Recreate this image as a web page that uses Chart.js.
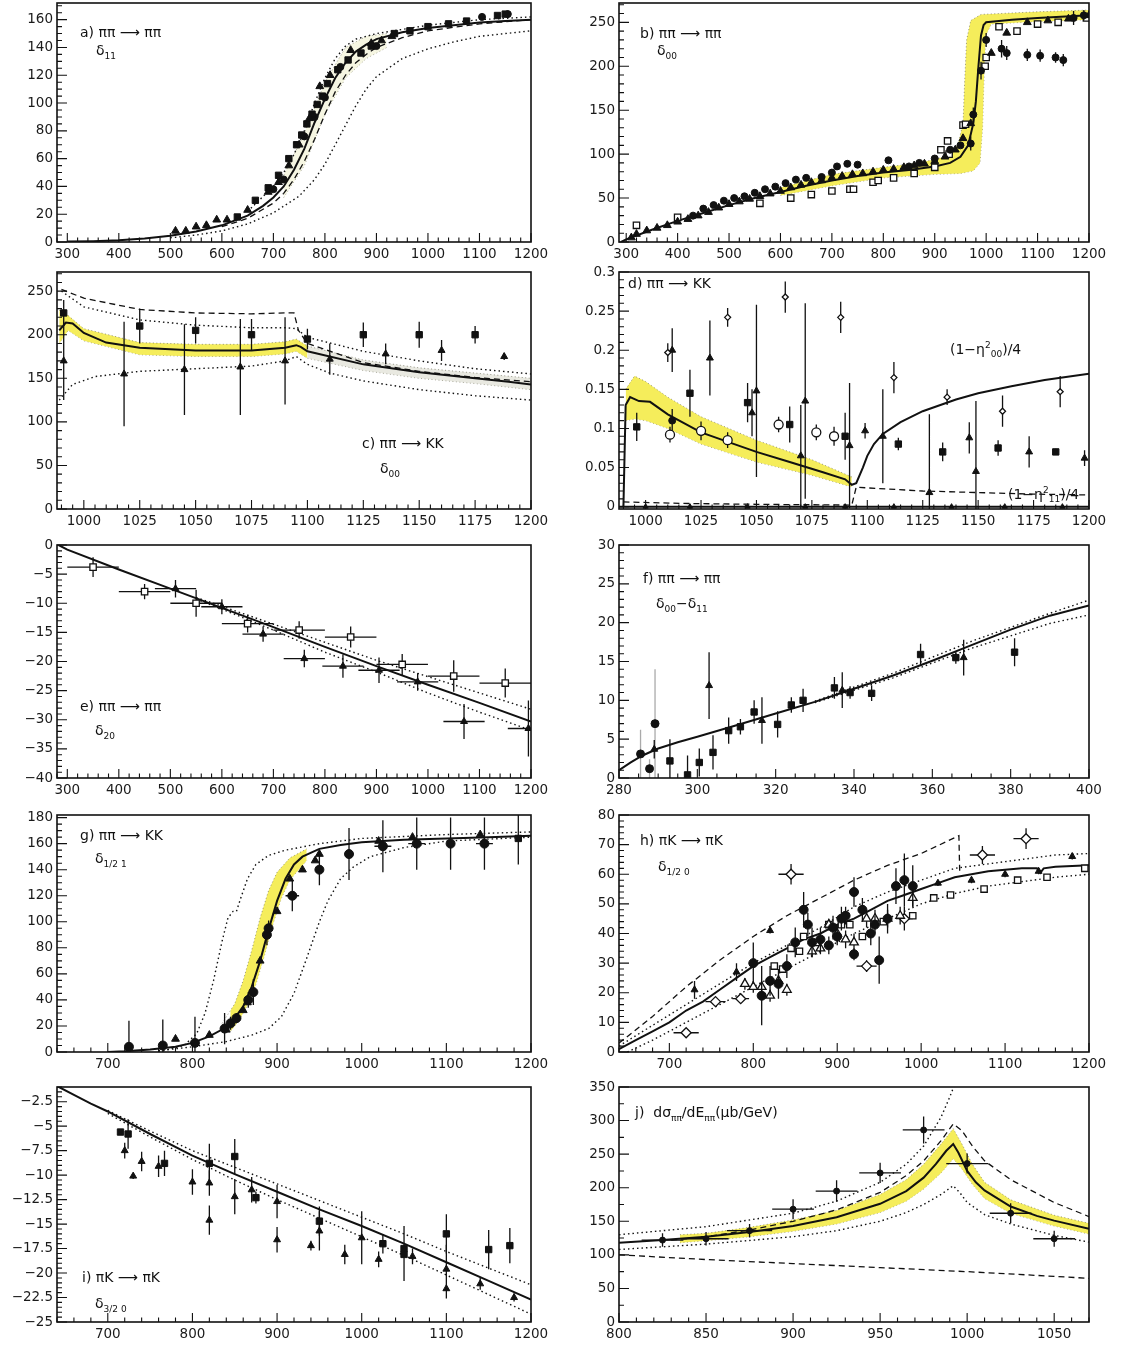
<!DOCTYPE html>
<html lang="en">
<head>
    <meta charset="UTF-8">
    <title>Phase shifts - fit panels</title>
    <script src="https://cdn.jsdelivr.net/npm/chart.js"></script>
    <style>
        body { margin: 0; width: 1125px; height: 1346px; background: #fff; position: relative; overflow: hidden; }
        canvas { position: absolute; }
        .lab { position: absolute; font: 14px "DejaVu Sans", sans-serif; color: #111; white-space: nowrap; line-height: 18px; }
        .lab sub { font-size: 9px; }
        .lab sup { font-size: 9px; }
    </style>
</head>
<body>
    <div class="lab" style="left:80px;top:23px">a) ππ ⟶ ππ</div>
    <div class="lab" style="left:96px;top:41px">δ<sub>11</sub></div>
    <div class="lab" style="left:640px;top:24px">b) ππ ⟶ ππ</div>
    <div class="lab" style="left:657px;top:41px">δ<sub>00</sub></div>
    <div class="lab" style="left:362px;top:434px">c) ππ ⟶ KK</div>
    <div class="lab" style="left:380px;top:459px">δ<sub>00</sub></div>
    <div class="lab" style="left:628px;top:274px">d) ππ ⟶ KK</div>
    <div class="lab" style="left:950px;top:336px">(1−η<sup>2</sup><sub>00</sub>)/4</div>
    <div class="lab" style="left:1008px;top:481px">(1−η<sup>2</sup><sub>11</sub>)/4</div>
    <div class="lab" style="left:80px;top:697px">e) ππ ⟶ ππ</div>
    <div class="lab" style="left:95px;top:721px">δ<sub>20</sub></div>
    <div class="lab" style="left:643px;top:569px">f) ππ ⟶ ππ</div>
    <div class="lab" style="left:656px;top:594px">δ<sub>00</sub>−δ<sub>11</sub></div>
    <div class="lab" style="left:80px;top:826px">g) ππ ⟶ KK</div>
    <div class="lab" style="left:95px;top:849px">δ<sub>1/2 1</sub></div>
    <div class="lab" style="left:640px;top:831px">h) πK ⟶ πK</div>
    <div class="lab" style="left:658px;top:857px">δ<sub>1/2 0</sub></div>
    <div class="lab" style="left:82px;top:1268px">i) πK ⟶ πK</div>
    <div class="lab" style="left:95px;top:1294px">δ<sub>3/2 0</sub></div>
    <div class="lab" style="left:635px;top:1103px">j)&nbsp; dσ<sub>ππ</sub>/dE<sub>ππ</sub>(μb/GeV)</div>

    <script>
        // ---- panel a: pi pi -> pi pi, delta11 ----
        const aTicksX = [300, 400, 500, 600, 700, 800, 900, 1000, 1100, 1200];
        const aTicksY = [0, 20, 40, 60, 80, 100, 120, 140, 160];
        const aSolid = [[300,0.3],[350,0.6],[400,1.2],[450,2.5],[500,4.5],[550,7.5],[600,12],[650,19],[680,26],[700,32],[720,40],[740,52],[760,67],[780,86],[800,103],[820,118],[840,129],[860,137],[880,142],[900,146],[950,151],[1000,154],[1050,156],[1100,158],[1150,159],[1200,160]];
        const aDashed = [[600,11],[650,17],[700,28],[720,35],[740,45],[760,58],[780,74],[800,92],[820,108],[840,120],[860,129],[880,135],[900,140],[950,147],[1000,152],[1100,157],[1200,160]];
        const aDotRight = [[500,3],[550,5],[600,8],[650,13],[700,21],[750,33],[780,45],[800,56],[820,70],[840,84],[860,98],[880,110],[900,119],[950,132],[1000,139],[1050,144],[1100,148],[1150,150],[1200,152]];
        const aDotLeft = [[650,22],[700,40],[720,50],[740,63],[760,80],[780,100],[800,118],[820,132],[840,141],[860,146],[900,150],[950,153],[1000,156],[1100,160],[1200,162]];
        const aBandHi = [[720,48],[760,78],[800,115],[840,140],[880,148],[920,150]];
        const aBandLo = [[720,32],[760,55],[800,92],[840,118],[880,132],[920,140]];
        const aTri = [[510,8],[530,8],[550,11],[570,12],[590,16],[610,16],[650,23],[690,36],[710,43],[730,55],[750,70],[770,89],[790,112],[810,120],[850,138],[890,143],[910,145],[930,148]];
        const aSq = [[630,18],[665,30],[690,39],[710,48],[730,60],[745,70],[755,77],[765,85],[775,92],[785,99],[795,105],[805,114],[825,124],[845,131],[870,136],[890,141],[935,150],[965,152],[1000,155],[1040,157],[1075,159],[1135,163],[1150,164]];
        const aCirc = [[700,38],[720,45],[760,76],[780,90],[800,104],[830,126],[900,141],[1105,162],[1155,164]];

        // ---- panel b: pi pi -> pi pi, delta00 ----
        const bTicksX = [300, 400, 500, 600, 700, 800, 900, 1000, 1100, 1200];
        const bTicksY = [0, 50, 100, 150, 200, 250];
        const bSolid = [[290,0],[300,3],[350,14],[400,24],[450,33],[500,42],[550,50],[600,57],[650,64],[700,70],[750,75],[800,79],[850,82],[900,86],[930,90],[950,97],[965,110],[975,135],[980,160],[985,200],[990,235],[995,247],[1000,250],[1050,253],[1100,255],[1200,258]];
        const bBandHi = [[600,62],[700,77],[800,85],[870,90],[920,97],[945,110],[955,135],[958,180],[962,230],[970,252],[990,259],[1100,262],[1200,264]];
        const bBandLo = [[600,53],[700,64],[800,73],[900,77],[950,78],[975,81],[988,90],[993,130],[996,190],[999,235],[1010,248],[1100,251],[1200,253]];
        const bCirc = [[430,30],[450,38],[470,42],[490,47],[510,50],[530,52],[550,56],[570,60],[590,63],[610,67],[630,71],[650,73],[680,74],[700,79],[710,86],[730,89],[750,88],[810,93],[850,86],[870,90],[900,95],[930,105],[950,110],[970,112,8],[975,145,8],[990,195,10],[1000,230,8],[1030,220,10],[1040,215,8],[1080,213,7],[1105,212,7],[1135,210,6],[1150,207,7],[1170,255,8],[1190,258,6]];
        const bTri = [[310,5],[320,9],[340,13],[360,16],[380,19],[400,23],[420,26],[440,30],[460,34],[480,39],[500,43],[520,46],[540,49],[560,52],[580,55],[600,58],[620,62],[640,65],[660,68],[680,70],[700,73],[720,75],[740,77],[760,78],[780,80],[800,82],[820,83],[840,85],[860,87],[880,89],[900,92],[920,97],[940,105],[955,118],[970,135],[1010,215],[1040,238],[1080,250],[1120,252],[1160,254],[1200,258]];
        const bOpenSq = [[320,19],[400,28],[560,44],[620,50],[660,54],[700,58],[735,60],[742,60],[780,68],[790,70],[820,73],[860,78],[900,85],[912,105],[925,115],[928,100],[955,133],[960,134],[998,200],[1000,210],[1025,245],[1060,240],[1100,248],[1140,250],[1195,255]];

        // ---- panel c: pi pi -> K K, delta00 ----
        const cTicksX = [1000, 1025, 1050, 1075, 1100, 1125, 1150, 1175, 1200];
        const cTicksY = [0, 50, 100, 150, 200, 250];
        const cSolid = [[989,205],[992,214],[995,213],[1000,202],[1010,191],[1025,185],[1050,182],[1075,182],[1090,185],[1095,188],[1097,186],[1100,181],[1125,166],[1150,157],[1175,150],[1190,146],[1200,143]];
        const cDashed = [[990,252],[1000,242],[1025,229],[1050,225],[1075,224],[1090,225],[1094,225],[1096,205],[1100,190],[1125,168],[1150,158],[1175,151],[1200,146]];
        const cDotHi = [[990,250],[1000,232],[1025,217],[1050,211],[1075,208],[1090,208],[1095,207],[1100,197],[1125,181],[1150,170],[1175,161],[1200,155]];
        const cDotLo = [[989,125],[995,143],[1005,152],[1025,158],[1050,161],[1075,164],[1090,170],[1095,175],[1100,166],[1110,156],[1125,147],[1150,137],[1175,130],[1200,125]];
        const cBandHi = [[989,228],[993,222],[1000,207],[1025,191],[1050,189],[1075,189],[1090,192],[1095,195],[1100,187]];
        const cBandLo = [[989,190],[993,205],[1000,193],[1025,177],[1050,175],[1075,175],[1090,178],[1095,181],[1100,173]];
        const cBandHi2 = [[1100,187],[1125,171],[1150,162],[1175,156],[1200,150]];
        const cBandLo2 = [[1100,173],[1125,159],[1150,150],[1175,144],[1200,137]];
        const cSq = [[991,225,15],[1025,210,20],[1050,205,15],[1075,200,18],[1100,195,12],[1125,200,14],[1150,200,15],[1175,200,10]];
        const cTri = [[991,170,45],[1018,155,60],[1045,160,52],[1070,163,55],[1090,170,50],[1110,172,18],[1135,178,12],[1160,182,12],[1188,175,4]];

        // ---- panel d: pi pi -> K K, inelasticities ----
        const dTicksX = [1000, 1025, 1050, 1075, 1100, 1125, 1150, 1175, 1200];
        const dTicksY = [0, 0.05, 0.1, 0.15, 0.2, 0.25, 0.3];
        const dSolid = [[990,0],[991,0.13],[993,0.14],[997,0.135],[1002,0.134],[1010,0.118],[1025,0.095],[1040,0.08],[1050,0.07],[1065,0.057],[1080,0.044],[1090,0.035],[1093,0.028],[1095,0.03],[1098,0.05],[1100,0.065],[1103,0.08],[1107,0.093],[1115,0.108],[1125,0.122],[1140,0.137],[1150,0.145],[1165,0.154],[1180,0.162],[1200,0.17]];
        const dBandHi = [[991,0.15],[995,0.167],[1000,0.16],[1010,0.14],[1025,0.115],[1050,0.085],[1075,0.06],[1093,0.038]];
        const dBandLo = [[991,0.11],[995,0.112],[1000,0.11],[1010,0.1],[1025,0.08],[1050,0.057],[1075,0.04],[1093,0.025]];
        const dDashed = [[990,0.006],[1020,0.004],[1050,0.003],[1093,0.002],[1095,0.025],[1100,0.024],[1125,0.02],[1150,0.018],[1175,0.016],[1200,0.015]];
        const dZero = [[988,0],[1200,0]];
        const dDiam = [[1010,0.197,0.012],[1037,0.242,0.012],[1063,0.268,0.02],[1088,0.242,0.02],[1112,0.165,0.02],[1136,0.14,0.01],[1161,0.122,0.02],[1187,0.147,0.02]];
        const dSq = [[996,0.102,0.018],[1020,0.145,0.03],[1046,0.133,0.025],[1065,0.105,0.023],[1090,0.09,0.03],[1114,0.08,0.008],[1134,0.07,0.012],[1159,0.075,0.01],[1185,0.07,0.004]];
        const dTri = [[1012,0.2,0.028],[1029,0.19,0.048],[1048,0.12,0.03],[1050,0.148,0.11],[1072,0.135,0.125],[1070,0.065,0.065],[1092,0.078,0.08],[1099,0.097,0.01],[1107,0.09,0.06],[1128,0.018,0.1],[1146,0.088,0.02],[1149,0.045,0.09],[1173,0.07,0.02],[1198,0.062,0.01]];
        const dOpenCirc = [[1011,0.092,0.01],[1025,0.097,0.012],[1037,0.085,0.01],[1060,0.105,0.01],[1077,0.095,0.01],[1085,0.09,0.012]];
        const dCirc = [[1012,0.11,0.015]];
        const dLowTri = [[1000,0],[1020,0],[1046,0],[1072,0],[1090,0],[1112,0],[1138,0],[1162,0],[1188,0]];

        // ---- panel e: pi pi -> pi pi, delta20 ----
        const eTicksX = [300, 400, 500, 600, 700, 800, 900, 1000, 1100, 1200];
        const eTicksY = [-40, -35, -30, -25, -20, -15, -10, -5, 0];
        const eSolid = [[283,0],[300,-0.8],[400,-4.2],[500,-7.5],[600,-10.8],[700,-14.1],[800,-17.5],[900,-20.8],[1000,-24],[1100,-27.1],[1200,-30.3]];
        const eDotHi = [[550,-9],[600,-10.5],[700,-13.6],[800,-16.7],[900,-19.8],[1000,-22.6],[1100,-25.4],[1200,-28.2]];
        const eDotLo = [[550,-9.3],[600,-11],[700,-14.6],[800,-18.4],[900,-21.8],[1000,-25.4],[1100,-28.7],[1200,-31.8]];
        const eSq = [[350,-3.8,1.7,50],[450,-8,1.3,50],[550,-10,2.3,50],[650,-13.5,1.5,50],[750,-14.6,1.5,50],[850,-15.8,1.8,50],[950,-20.5,1.8,50],[1050,-22.5,2.7,50],[1150,-23.7,2.5,50]];
        const eTri = [[510,-7.5,1.5,40],[600,-10.6,1.3,40],[680,-15.3,1.3,40],[760,-19.5,1.5,40],[835,-20.8,2,40],[905,-21.5,2.2,40],[980,-23.5,1.5,40],[1070,-30.3,3,40],[1195,-31.5,4.8,40]];

        // ---- panel f: pi pi -> pi pi, delta00 - delta11 ----
        const fTicksX = [280, 300, 320, 340, 360, 380, 400];
        const fTicksY = [0, 5, 10, 15, 20, 25, 30];
        const fSolid = [[280,1],[283,2],[286,2.9],[290,3.8],[295,4.6],[300,5.3],[310,6.8],[320,8.3],[330,9.8],[340,11.5],[350,13.2],[360,15.1],[370,17.1],[380,19.1],[390,20.9],[400,22.2]];
        const fDotHi = [[330,9.9],[350,13.5],[370,17.6],[390,21.2],[400,22.9]];
        const fDotLo = [[330,9.7],[350,12.9],[370,16.7],[390,19.9],[400,21]];
        const fSq = [[293,2.2,2.8],[297.5,0.4,2.5],[300.5,2,1.8],[304,3.3,2.2],[308,6.1,1.7],[311,6.6,1],[314.5,8.5,1.5],[320.5,6.9,1.7],[324,9.4,1],[327,10,1.5],[335,11.6,1.4],[339,11,0.8],[344.5,10.9,1],[357,15.9,1.4],[366,15.5,0.8],[381,16.2,1.8]];
        const fTri = [[289,3.7,1.2],[303,11.9,4.3],[316.5,7.4,3],[337,11.3,2.3],[368,15.5,2.3]];
        const fGrey = [[285.5,3.1,3.1],[287.8,1.2,1.2],[289.2,7,7]];

        // ---- panel g: pi pi -> K K, delta 1/2 1 ----
        const gTicksX = [700, 800, 900, 1000, 1100, 1200];
        const gTicksY = [0, 20, 40, 60, 80, 100, 120, 140, 160, 180];
        const gSolid = [[700,0],[720,0.5],[750,2],[780,4],[800,7],[820,12],[840,19],[850,26],[860,35],[870,50],[880,70],[890,94],[900,116],[910,133],[920,144],[930,150],[950,156],[975,159],[1000,161],[1050,163],[1100,164],[1150,165],[1200,166]];
        const gDotL = [[760,0],[790,5],[805,14],[815,30],[825,55],[835,85],[842,103],[848,108],[852,108],[857,118],[865,133],[875,144],[890,151],[910,155],[950,160],[1000,164],[1100,167],[1200,169]];
        const gDotR = [[760,1],[800,4],[840,8],[870,13],[890,18],[905,27],[920,45],[935,72],[950,100],[960,116],[975,133],[990,142],[1010,150],[1050,157],[1100,162],[1200,165]];
        const gBandHi = [[835,22],[850,37],[860,55],[870,78],[880,103],[890,124],[900,138],[915,149],[935,156]];
        const gBandLo = [[845,16],[855,24],[865,36],[875,52],[885,74],[895,98],[905,118],[915,132],[935,147]];
        const gCirc = [[725,4,20],[765,5,20],[803,7,20],[838,18,12],[845,22,5],[852,26,4],[866,40,6],[872,46,10],[888,90,8],[890,95,6],[918,120,12,8],[950,140,12],[985,152,20],[1025,158,20,10],[1065,160,20,10],[1105,160,20],[1145,160,20,10]];
        const gTri = [[780,10],[820,13],[840,17],[860,32],[865,38],[880,70],[900,108],[915,133],[930,140],[945,147],[950,152],[1020,162],[1060,165],[1140,167]];
        const gSq = [[1185,164,20]];

        // ---- panel h: pi K -> pi K, delta 1/2 0 ----
        const hTicksX = [700, 800, 900, 1000, 1100, 1200];
        const hTicksY = [0, 10, 20, 30, 40, 50, 60, 70, 80];
        const hSolid = [[640,1],[660,4],[680,7],[700,10],[720,14],[740,17],[760,21],[780,25],[800,29],[820,32],[840,35],[860,38],[880,40],[900,43],[920,45],[940,48],[960,51],[980,53],[1000,55],[1020,57],[1040,59],[1060,60],[1080,61],[1100,61.5],[1120,62],[1138,62],[1142,60.5],[1146,62],[1160,62.5],[1200,63]];
        const hDashed = [[640,3],[680,12],[720,22],[760,31],[800,39],[840,46],[880,52],[920,58],[960,63],[1000,67],[1045,73],[1046,60]];
        const hDotHi = [[640,2],[680,9],[720,16],[760,23],[800,30],[840,36],[880,42],[920,49],[960,54],[1000,58],[1040,62],[1080,63.5],[1120,65],[1160,66.5],[1200,67]];
        const hDotLo = [[650,0],[680,4],[720,10],[760,16],[800,22],[840,28],[880,34],[920,40],[960,45],[1000,50],[1040,53.5],[1080,56],[1120,57.5],[1160,59],[1200,60]];
        const hCirc = [[800,30,7],[810,19,10],[820,24,5],[830,23,5],[840,29,4],[850,37,5],[860,48,6],[865,43,4],[870,37,5],[880,38,4],[890,36,3],[895,42,4],[900,39,3],[905,45,4],[910,46,3],[920,54,5],[920,33,2],[930,48,4],[940,40,4],[945,43,3],[950,31,8],[960,45,5],[970,56,6],[980,58,9],[990,56,7]];
        const hTri = [[730,21,3],[780,27,3],[820,41,1],[1020,57,1],[1060,58,1],[1100,60,1],[1140,61,1],[1180,66,1]];
        const hOpenTri = [[790,23,2],[800,22,2],[810,22,2],[820,19,2],[830,24,2],[840,21,2],[870,34,2],[880,35,2],[890,43,2],[900,40,3],[910,38,3],[920,37,3],[935,45,3],[945,45,3],[960,45,3],[975,46,3],[990,52,3]];
        const hOpenSq = [[825,29],[835,28],[845,35],[855,34],[860,39],[875,37],[890,43],[905,43],[915,43],[930,39],[955,44],[990,46],[1015,52],[1035,53],[1075,55],[1115,58],[1150,59],[1195,62]];
        const hDiam = [[720,6.5,0,15],[755,17,0,12],[785,18,1,10],[845,60,3.5,15],[935,29,2,12],[980,45,4,10],[1073,66.5,3,15],[1125,72,3.5,15]];

        // ---- panel i: pi K -> pi K, delta 3/2 0 ----
        const iTicksX = [700, 800, 900, 1000, 1100, 1200];
        const iTicksY = [-25, -22.5, -20, -17.5, -15, -12.5, -10, -7.5, -5, -2.5];
        const iSolid = [[640,-0.9],[660,-1.8],[680,-2.7],[700,-3.5],[750,-5.8],[800,-8],[850,-9.9],[900,-11.7],[950,-13.5],[1000,-15.2],[1050,-17],[1100,-18.9],[1150,-20.8],[1200,-22.7]];
        const iDotHi = [[700,-3.4],[750,-5.5],[800,-7.5],[850,-9.2],[900,-10.9],[950,-12.6],[1000,-14.3],[1050,-16],[1100,-17.8],[1150,-19.5],[1200,-21.2]];
        const iDotLo = [[700,-3.7],[750,-6.1],[800,-8.4],[850,-10.5],[900,-12.5],[950,-14.4],[1000,-16.3],[1050,-18.2],[1100,-20.2],[1150,-22.2],[1200,-24.2]];
        const iSq = [[715,-5.6,0.3],[724,-5.8,1.5],[767,-8.8,1.3],[820,-8.8,2],[850,-8.1,1.8],[875,-12.3,0.6],[950,-14.7,1.5],[1025,-17,1],[1050,-17.5,2.3],[1050,-18.1,2.7],[1100,-16,2],[1150,-17.6,2],[1175,-17.2,1.8]];
        const iTri = [[720,-7.5,0.8],[730,-10.1,0.3],[740,-8.6,1],[760,-9.1,1.1],[800,-10.7,1.3],[820,-10.8,1.3],[820,-14.6,1.5],[850,-12.2,1.8],[870,-11.5,1.3],[900,-12.7,1.7],[900,-16.6,1.3],[940,-17.2,0.5],[950,-15.7,2],[980,-18.1,1],[1000,-16.4,2.7],[1020,-18.6,0.8],[1060,-18.3,0.8],[1100,-19.6,2.5],[1100,-21.6,1],[1140,-21.1,0.6],[1180,-22.5,0.4]];

        // ---- panel j: cross section ----
        const jTicksX = [800, 850, 900, 950, 1000, 1050];
        const jTicksY = [0, 50, 100, 150, 200, 250, 300, 350];
        const jSolid = [[800,118],[825,122],[850,127],[875,134],[900,143],[925,156],[950,176],[965,195],[975,215],[982,235],[988,255],[992,265],[995,252],[1000,225],[1005,208],[1010,196],[1025,172],[1040,158],[1050,151],[1070,139]];
        const jBandHi = [[835,130],[850,132],[875,141],[900,152],[925,166],[950,190],[965,212],[975,235],[985,265],[992,288],[997,265],[1003,235],[1010,208],[1025,182],[1050,159],[1070,147]];
        const jBandLo = [[835,118],[850,121],[875,127],[900,135],[925,146],[950,163],[965,180],[975,198],[985,222],[992,243],[997,228],[1003,205],[1010,184],[1025,162],[1050,143],[1070,131]];
        const jDashedHi = [[830,122],[850,127],[875,137],[900,150],[925,167],[950,193],[965,218],[975,240],[985,270],[992,295],[997,285],[1003,262],[1010,240],[1025,212],[1050,178],[1070,157]];
        const jDashedLo = [[800,100],[850,93],[900,87],[950,81],[1000,75],[1050,68],[1070,65]];
        const jDotHi = [[800,130],[850,142],[900,162],[925,180],[950,208],[965,235],[975,262],[985,305],[990,335],[993,355]];
        const jDotLo = [[800,108],[850,116],[900,127],[925,136],[950,150],[965,163],[975,175],[985,190],[992,203],[996,192],[1000,178],[1010,160],[1025,146],[1050,129],[1070,119]];
        const jPts = [[825,122,10,12],[850,124,10,13],[875,136,10,13],[900,168,15,12],[925,195,16,12],[950,222,15,12],[975,286,20,12],[1000,236,15,12],[1025,162,15,12],[1050,124,12,12]];

        const FONT = '"DejaVu Sans", sans-serif';
        const YELLOW = 'rgba(243, 232, 50, 0.8)';
        const PALE = 'rgba(235, 235, 190, 0.45)';
        const GREYBAND = 'rgba(215, 215, 200, 0.55)';

        // page geometry: plot frames of the two columns and five rows
        const cols = [{ x: 0, w: 560, left: 57, right: 531 }, { x: 560, w: 565, left: 619, right: 1089 }];
        const rows = [{ top: 3, bottom: 242 }, { top: 272, bottom: 509 }, { top: 545, bottom: 778 },
                      { top: 815, bottom: 1052 }, { top: 1087, bottom: 1322 }];

        function P(arr) { return arr.map(p => ({ x: p[0], y: p[1], ey: p[2] || 0, ex: p[3] || 0 })); }

        function curve(arr, kind) {
            const ds = { data: P(arr), showLine: true, pointRadius: 0, borderColor: '#111', borderWidth: 2, tension: 0, order: 1 };
            if (kind === 'dash') { ds.borderDash = [6, 4]; ds.borderWidth = 1.3; }
            if (kind === 'dot') { ds.borderDash = [1.5, 3]; ds.borderWidth = 1.4; }
            return ds;
        }

        function band(hi, lo, color) {
            const edge = { showLine: true, pointRadius: 0, borderColor: 'rgba(110,110,90,0.7)', borderWidth: 1, borderDash: [1, 2.5], tension: 0, order: 2 };
            return [Object.assign({ data: P(hi), fill: '+1', backgroundColor: color }, edge),
                    Object.assign({ data: P(lo), fill: false }, edge)];
        }

        function marks(arr, style, open, r, errColor) {
            return {
                data: P(arr), showLine: false, pointStyle: style, pointRadius: r || 4,
                pointBackgroundColor: open ? '#fff' : '#111', pointBorderColor: '#111',
                pointBorderWidth: open ? 1.3 : 1, order: 0, errors: true, errColor: errColor || '#111'
            };
        }

        // vertical / horizontal error bars, drawn just before each marker set
        const errorBars = {
            id: 'errorBars',
            beforeDatasetDraw(chart, args) {
                const ds = chart.data.datasets[args.index];
                if (!ds.errors) return;
                const { ctx, chartArea: a, scales: { x, y } } = chart;
                ctx.save();
                ctx.beginPath();
                ctx.rect(a.left, a.top, a.right - a.left, a.bottom - a.top);
                ctx.clip();
                ctx.strokeStyle = ds.errColor;
                ctx.lineWidth = 1.3;
                ctx.beginPath();
                ds.data.forEach(p => {
                    const px = x.getPixelForValue(p.x), py = y.getPixelForValue(p.y);
                    if (p.ey) { ctx.moveTo(px, y.getPixelForValue(p.y - p.ey)); ctx.lineTo(px, y.getPixelForValue(p.y + p.ey)); }
                    if (p.ex) { ctx.moveTo(x.getPixelForValue(p.x - p.ex), py); ctx.lineTo(x.getPixelForValue(p.x + p.ex), py); }
                });
                ctx.stroke();
                ctx.restore();
            }
        };

        // frame with inward major and minor ticks
        function frameFor(xt, yt, xMinor, yMinor) {
            return {
                id: 'frame',
                afterDraw(chart) {
                    const { ctx, chartArea: a, scales: { x, y } } = chart;
                    ctx.save();
                    ctx.strokeStyle = '#111';
                    ctx.lineWidth = 1.6;
                    ctx.strokeRect(a.left, a.top, a.right - a.left, a.bottom - a.top);
                    ctx.lineWidth = 1.1;
                    ctx.beginPath();
                    const sx = (xt[1] - xt[0]) / xMinor;
                    for (let k = Math.ceil((x.min - xt[0]) / sx - 1e-6); k <= Math.floor((x.max - xt[0]) / sx + 1e-6); k++) {
                        const px = x.getPixelForValue(xt[0] + k * sx);
                        const len = (k % xMinor === 0) ? 9 : 4.5;
                        ctx.moveTo(px, a.bottom); ctx.lineTo(px, a.bottom - len);
                    }
                    const sy = (yt[1] - yt[0]) / yMinor;
                    for (let k = Math.ceil((y.min - yt[0]) / sy - 1e-6); k <= Math.floor((y.max - yt[0]) / sy + 1e-6); k++) {
                        const py = y.getPixelForValue(yt[0] + k * sy);
                        const len = (k % yMinor === 0) ? 10 : 5;
                        ctx.moveTo(a.left, py); ctx.lineTo(a.left + len, py);
                    }
                    ctx.stroke();
                    ctx.restore();
                }
            };
        }

        function axis(range, ticks, fit) {
            return {
                type: 'linear', min: range[0], max: range[1],
                afterBuildTicks: s => { s.ticks = ticks.map(v => ({ value: v })); },
                afterFit: fit,
                grid: { display: false, drawTicks: false },
                border: { display: false },
                ticks: {
                    autoSkip: false, maxRotation: 0, padding: 4, color: '#1a1a1a',
                    font: { family: FONT, size: 13.5 },
                    callback: v => String(v).replace('-', '\u2212')
                }
            };
        }

        function makePanel(col, row, xr, yr, xt, yt, xMinor, yMinor, datasets) {
            const c = cols[col], r = rows[row];
            const top = r.top - 14, h = r.bottom - r.top + 40;
            const cv = document.createElement('canvas');
            cv.width = c.w; cv.height = h;
            cv.style.cssText = `left:${c.x}px;top:${top}px;width:${c.w}px;height:${h}px`;
            document.body.insertBefore(cv, document.body.firstChild);
            new Chart(cv, {
                type: 'scatter',
                data: { datasets },
                options: {
                    responsive: false, animation: false, devicePixelRatio: 1,
                    layout: { padding: { top: 14, right: c.x + c.w - c.right, left: 0, bottom: 0 } },
                    plugins: { legend: { display: false }, tooltip: { enabled: false } },
                    scales: {
                        x: axis(xr, xt, s => { s.height = 26; }),
                        y: axis(yr, yt, s => { s.width = c.left - c.x; })
                    }
                },
                plugins: [errorBars, frameFor(xt, yt, xMinor, yMinor)]
            });
        }

        makePanel(0, 0, [280, 1200], [0, 172], aTicksX, aTicksY, 5, 4, [
            marks(aTri, 'triangle', false, 4.5), marks(aSq, 'rect', false, 4.5), marks(aCirc, 'circle', false, 3.5),
            curve(aSolid), curve(aDashed, 'dash'), curve(aDotRight, 'dot'), curve(aDotLeft, 'dot'),
            ...band(aBandHi, aBandLo, PALE)
        ]);

        makePanel(1, 0, [286, 1200], [0, 272], bTicksX, bTicksY, 5, 5, [
            marks(bCirc, 'circle', false, 3.5), marks(bTri, 'triangle', false, 4.5), marks(bOpenSq, 'rect', true, 4.5),
            curve(bSolid),
            ...band(bBandHi, bBandLo, YELLOW)
        ]);

        makePanel(0, 1, [988, 1200], [0, 272], cTicksX, cTicksY, 5, 5, [
            marks(cSq, 'rect', false, 4.5), marks(cTri, 'triangle', false, 4),
            curve(cSolid), curve(cDashed, 'dash'), curve(cDotHi, 'dot'), curve(cDotLo, 'dot'),
            ...band(cBandHi, cBandLo, YELLOW), ...band(cBandHi2, cBandLo2, GREYBAND)
        ]);

        makePanel(1, 1, [988, 1200], [-0.003, 0.3], dTicksX, dTicksY, 5, 5, [
            marks(dDiam, 'rectRot', true, 3), marks(dSq, 'rect', false, 4.5), marks(dTri, 'triangle', false, 4),
            marks(dOpenCirc, 'circle', true, 4.5), marks(dCirc, 'circle', false, 3.5), marks(dLowTri, 'triangle', false, 3),
            curve(dSolid), curve(dDashed, 'dash'), curve(dZero),
            ...band(dBandHi, dBandLo, YELLOW)
        ]);

        makePanel(0, 2, [280, 1200], [-40, 0], eTicksX, eTicksY, 5, 5, [
            marks(eSq, 'rect', true, 4.5), marks(eTri, 'triangle', false, 4),
            curve(eSolid), curve(eDotHi, 'dot'), curve(eDotLo, 'dot')
        ]);

        makePanel(1, 2, [280, 400], [0, 30], fTicksX, fTicksY, 4, 5, [
            marks(fSq, 'rect', false, 4.5), marks(fTri, 'triangle', false, 4), marks(fGrey, 'circle', false, 0, '#aaa'),
            curve(fSolid), curve(fDotHi, 'dot'), curve(fDotLo, 'dot')
        ]);

        makePanel(0, 3, [640, 1200], [0, 182], gTicksX, gTicksY, 5, 4, [
            marks(gCirc, 'circle', false, 4.5), marks(gTri, 'triangle', false, 4.5), marks(gSq, 'rect', false, 4.5),
            curve(gSolid), curve(gDotL, 'dot'), curve(gDotR, 'dot'),
            ...band(gBandHi, gBandLo, YELLOW)
        ]);

        makePanel(1, 3, [640, 1200], [0, 80], hTicksX, hTicksY, 5, 5, [
            marks(hCirc, 'circle', false, 4.5), marks(hTri, 'triangle', false, 4), marks(hOpenTri, 'triangle', true, 5),
            marks(hOpenSq, 'rect', true, 4.5), marks(hDiam, 'rectRot', true, 5),
            curve(hSolid), curve(hDashed, 'dash'), curve(hDotHi, 'dot'), curve(hDotLo, 'dot')
        ]);

        makePanel(0, 4, [640, 1200], [-25, -1], iTicksX, iTicksY, 5, 5, [
            marks(iSq, 'rect', false, 4.5), marks(iTri, 'triangle', false, 4),
            curve(iSolid), curve(iDotHi, 'dot'), curve(iDotLo, 'dot')
        ]);

        makePanel(1, 4, [800, 1070], [0, 350], jTicksX, jTicksY, 5, 2, [
            marks(jPts, 'circle', false, 3),
            curve(jSolid), curve(jDashedHi, 'dash'), curve(jDashedLo, 'dash'), curve(jDotHi, 'dot'), curve(jDotLo, 'dot'),
            ...band(jBandHi, jBandLo, YELLOW)
        ]);
    </script>
</body>
</html>
